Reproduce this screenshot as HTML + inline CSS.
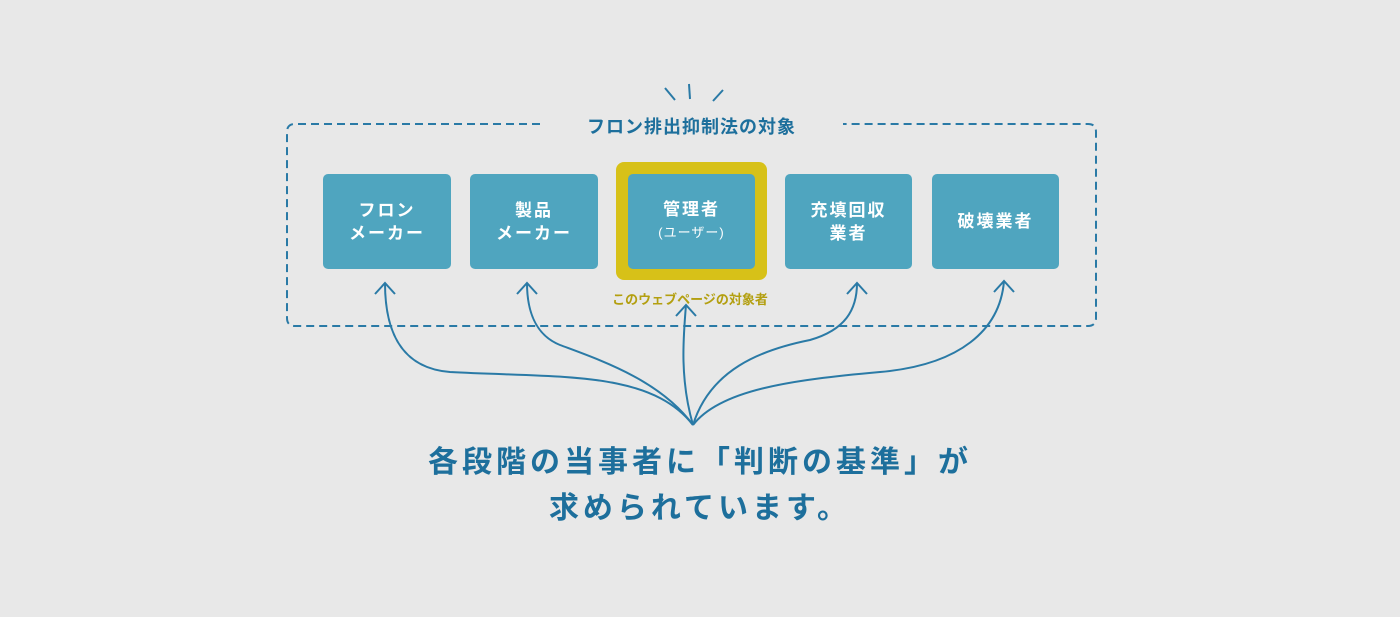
<!DOCTYPE html>
<html><head><meta charset="utf-8"><style>
body{margin:0;width:1400px;height:617px;background:#e8e8e8;position:relative;overflow:hidden;font-family:"Liberation Sans","Noto Sans CJK JP",sans-serif}
.b{position:absolute;background:#4fa5bf;border-radius:5px;color:#fff;display:flex;align-items:center;justify-content:center;text-align:center;font-size:17px;font-weight:bold;line-height:23px;letter-spacing:2px}
.t{position:absolute;text-align:center;color:#1d6f9c;font-weight:bold}
</style></head><body>
<svg width="1400" height="617" style="position:absolute;left:0;top:0">
<g fill="none" stroke="#2a7aa6" stroke-width="2">
<path d="M540,124 H295 Q287,124 287,132 V318 Q287,326 295,326 H1088 Q1096,326 1096,318 V132 Q1096,124 1088,124 H843" stroke-dasharray="8,5"/>
<path d="M665,88 L675,100 M689,84 L690,99 M723,90 L713,101"/>
<path d="M693,425 C650,370 560,378 450,372 C400,368 385,330 385,283"/>
<path d="M693,425 C660,380 600,360 560,345 C535,335 527,310 527,283"/>
<path d="M693,425 C680,380 683,340 686,305"/>
<path d="M693,425 C710,370 760,350 810,340 C845,330 857,310 857,283"/>
<path d="M693,425 C720,390 790,380 880,372 C960,365 1000,330 1004,281"/>
<path d="M375,294 L385,283 L395,294 M517,294 L527,283 L537,294 M676,316 L686,305 L696,316 M847,294 L857,283 L867,294 M994,292 L1004,281 L1014,292"/>
</g></svg>
<div class="t" style="left:540px;top:113px;width:303px;font-size:18px;letter-spacing:1px">フロン排出抑制法の対象</div>
<div class="b" style="left:323px;top:174px;width:128px;height:95px">フロン<br>メーカー</div>
<div class="b" style="left:470px;top:174px;width:128px;height:95px">製品<br>メーカー</div>
<div style="position:absolute;left:616px;top:162px;width:151px;height:118px;background:#d7c118;border-radius:8px"></div>
<div class="b" style="left:628px;top:174px;width:127px;height:95px;line-height:22px"><div>管理者<br><span style="font-size:13px;font-weight:normal;letter-spacing:1px">(ユーザー)</span></div></div>
<div class="b" style="left:785px;top:174px;width:127px;height:95px">充填回収<br>業者</div>
<div class="b" style="left:932px;top:174px;width:127px;height:95px">破壊業者</div>
<div class="t" style="left:600px;top:289px;width:180px;font-size:13px;color:#b39f10">このウェブページの対象者</div>
<div class="t" style="left:300px;top:440px;width:800px;font-size:30px;line-height:46px;letter-spacing:4px">各段階の当事者に「判断の基準」が<br>求められています。</div>
</body></html>
